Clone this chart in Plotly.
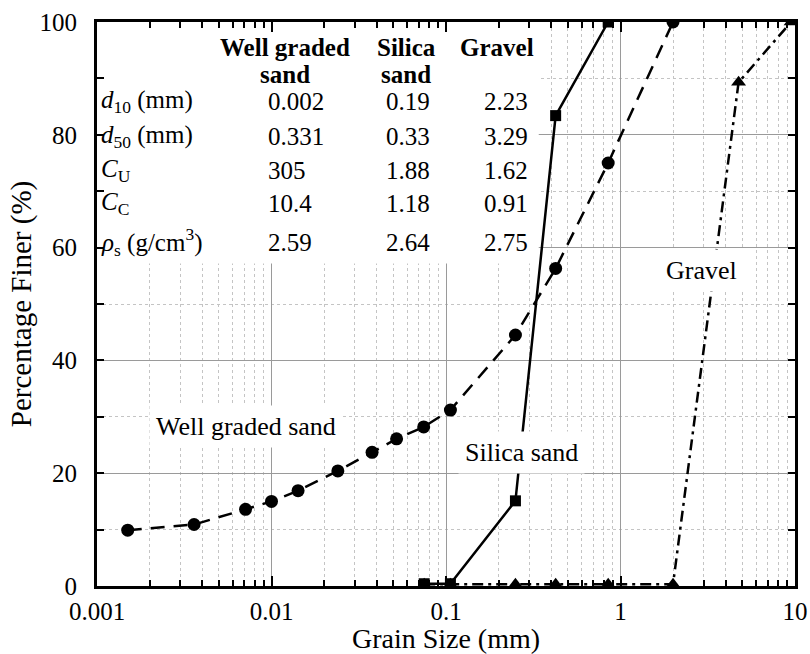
import numpy as np
import plotly.graph_objects as go

# Particle size distribution curves
well_size = [0.0015, 0.0036, 0.0071, 0.0100, 0.0142, 0.0240, 0.0377, 0.0521, 0.0745, 0.106, 0.25, 0.425, 0.85, 2.0]
well_finer = [9.9, 10.9, 13.6, 15.0, 16.9, 20.4, 23.7, 26.1, 28.2, 31.2, 44.5, 56.3, 75.0, 100.0]

silica_size = [0.075, 0.106, 0.25, 0.425, 0.85]
silica_finer = [0.4, 0.4, 15.1, 83.4, 100.0]

gravel_size = [0.075, 0.106, 0.25, 0.425, 0.85, 2.0, 4.75, 9.5]
gravel_finer = [0.3, 0.3, 0.3, 0.3, 0.3, 0.3, 89.3, 100.0]

# Property table
table_headers_top = ["Well graded", "Silica", "Gravel"]
table_headers_bottom = ["sand", "sand", ""]
table_rows = [
    "<i>d</i><sub>10</sub> (mm)",
    "<i>d</i><sub>50</sub> (mm)",
    "<i>C</i><sub>U</sub>",
    "<i>C</i><sub>C</sub>",
    "<i>ρ</i><sub>s</sub> (g/cm<sup>3</sup>)",
]
well_props = ["0.002", "0.331", "305", "10.4", "2.59"]
silica_props = ["0.19", "0.33", "1.88", "1.18", "2.64"]
gravel_props = ["2.23", "3.29", "1.62", "0.91", "2.75"]

x_tickvals = [0.001, 0.01, 0.1, 1, 10]
x_ticktext = ["0.001", "0.01", "0.1", "1", "10"]
y_tickvals = [0, 20, 40, 60, 80, 100]

FONT = "Liberation Serif, Times New Roman, serif"
W, H = 810, 654
M_L, M_R, M_T, M_B = 97, 15, 22, 68
PW, PH = W - M_L - M_R, H - M_T - M_B


def px_x(px):
    return (px - M_L) / PW


def px_y(py):
    return (H - M_B - py) / PH


fig = go.Figure()

fig.add_trace(go.Scatter(
    x=well_size, y=well_finer, mode="lines+markers", name="Well graded sand",
    line=dict(color="black", width=2.5, dash="14px,9px"),
    marker=dict(symbol="circle", size=13, color="black"),
))
fig.add_trace(go.Scatter(
    x=silica_size, y=silica_finer, mode="lines+markers", name="Silica sand",
    line=dict(color="black", width=2.5),
    marker=dict(symbol="square", size=11, color="black"),
))
fig.add_trace(go.Scatter(
    x=gravel_size, y=gravel_finer, mode="lines+markers", name="Gravel",
    line=dict(color="black", width=2.5, dash="11px,5px,3px,5px"),
    marker=dict(symbol="triangle-up", size=13, color="black"),
))

# white panel behind the property table (hides the grid)
fig.add_shape(type="rect", xref="x", yref="y", layer="between",
              x0=0.001, x1=0.34, y0=57.2, y1=100,
              fillcolor="white", line=dict(width=0))

annotations = []
tfont = dict(family=FONT, size=25, color="black")

# headers (two lines, set tightly)
header_cx = [285, 406, 497]
for top, bottom, cx in zip(table_headers_top, table_headers_bottom, header_cx):
    for txt, cy in ((top, 47), (bottom, 74)):
        if txt:
            annotations.append(dict(
                xref="paper", yref="paper", x=px_x(cx), y=px_y(cy),
                text="<b>" + txt + "</b>", showarrow=False, xanchor="center", yanchor="middle",
                font=tfont,
            ))

row_cy = [101, 136, 170, 204, 242]
for lbl, cy, a, b, c in zip(table_rows, row_cy, well_props, silica_props, gravel_props):
    annotations.append(dict(xref="paper", yref="paper", x=px_x(99), y=px_y(cy),
                            text=lbl, showarrow=False, xanchor="left", yanchor="middle", font=tfont))
    for val, lx in zip((a, b, c), (266, 384, 482)):
        annotations.append(dict(xref="paper", yref="paper", x=px_x(lx), y=px_y(cy),
                                text=val, showarrow=False, xanchor="left", yanchor="middle", font=tfont))

# curve labels
lfont = dict(family=FONT, size=26, color="black")
for txt, xs, ys in [("Well graded sand", 0.0071, 28.2),
                    ("Silica sand", 0.271, 23.6),
                    ("Gravel", 2.92, 56.0)]:
    annotations.append(dict(xref="x", yref="y", x=np.log10(xs), y=ys, text=txt,
                            showarrow=False, bgcolor="white", borderpad=6, font=lfont))

fig.update_layout(
    width=W, height=H,
    margin=dict(l=M_L, r=M_R, t=M_T, b=M_B, autoexpand=False),
    paper_bgcolor="white", plot_bgcolor="white",
    showlegend=False,
    font=dict(family=FONT, size=25, color="black"),
    annotations=annotations,
)

fig.update_xaxes(
    type="log", range=[-3, 1], automargin=False,
    tickvals=x_tickvals, ticktext=x_ticktext,
    ticks="inside", ticklen=10, tickwidth=1.5, tickcolor="black",
    showline=True, linewidth=3, linecolor="black", mirror="allticks",
    showgrid=True, gridcolor="#9a9a9a", gridwidth=1,
    tickfont=dict(family=FONT, size=25, color="black"),
    ticklabelstandoff=1,
    title=dict(text="Grain Size (mm)", font=dict(family=FONT, size=28, color="black"), standoff=0),
    minor=dict(dtick="D1", ticks="inside", ticklen=6, tickwidth=1.5, tickcolor="black",
               showgrid=True, gridcolor="#c4c4c4", griddash="dot", gridwidth=1),
    zeroline=False,
)
fig.update_yaxes(
    range=[0, 100], automargin=False,
    tickvals=y_tickvals,
    ticks="inside", ticklen=7, tickwidth=1.5, tickcolor="black",
    showline=True, linewidth=3, linecolor="black", mirror="allticks",
    showgrid=True, gridcolor="#9a9a9a", gridwidth=1,
    tickfont=dict(family=FONT, size=25, color="black"),
    ticklabelstandoff=12,
    title=dict(text="Percentage Finer (%)", font=dict(family=FONT, size=29, color="black"), standoff=0),
    minor=dict(dtick=10, ticks="inside", ticklen=7, tickwidth=1.5, tickcolor="black",
               showgrid=True, gridcolor="#c4c4c4", griddash="dot", gridwidth=1),
    zeroline=False,
)

fig.write_html("out.html")
